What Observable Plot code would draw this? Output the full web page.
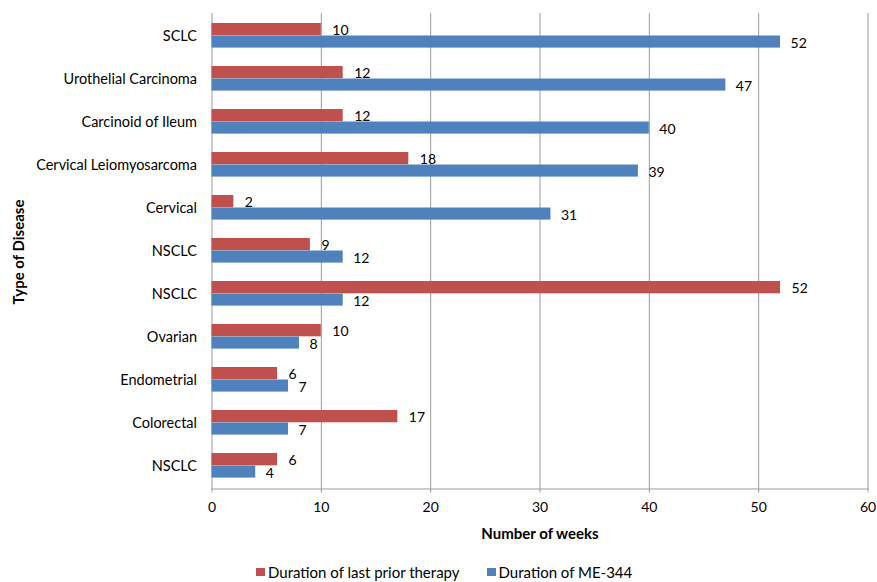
<!DOCTYPE html>
<html>
<head>
<meta charset="utf-8">
<script src="https://cdn.jsdelivr.net/npm/d3@7"></script>
<script src="https://cdn.jsdelivr.net/npm/@observablehq/plot@0.6"></script>
<style>
  html, body { margin: 0; padding: 0; background: #fff; }
  body { width: 877px; height: 582px; overflow: hidden; position: relative; font-family: Lato, "Open Sans", sans-serif; }
  #chart { position: absolute; left: 0; top: 0; }
  .ylab { position: absolute; left: 18px; top: 252px; transform: translate(-50%, -50%) rotate(-90deg); font-weight: bold; font-size: 15px; color: #000; white-space: nowrap; }
  .xlab { position: absolute; left: 540px; top: 533px; transform: translate(-50%, -50%); font-weight: bold; font-size: 15px; color: #000; white-space: nowrap; }
  .legend { position: absolute; top: 564px; left: 256px; font-size: 15px; line-height: 16px; color: #000; white-space: nowrap; display: flex; align-items: center; }
  .legend span.sw { display: inline-block; width: 9px; height: 8px; margin-right: 3px; }
  .legend span.item { display: inline-flex; align-items: center; margin-right: 27px; }
</style>
</head>
<body>
<div id="chart"></div>
<div class="ylab">Type of Disease</div>
<div class="xlab">Number of weeks</div>
<div class="legend" id="legend"></div>
<script>
// Disease types, top to bottom (NSCLC appears for three separate patients)
const diseases = ["SCLC", "Urothelial Carcinoma", "Carcinoid of Ileum", "Cervical Leiomyosarcoma",
  "Cervical", "NSCLC", "NSCLC", "Ovarian", "Endometrial", "Colorectal", "NSCLC"];
// Duration of last prior therapy (weeks)
const priorWeeks = [10, 12, 12, 18, 2, 9, 52, 10, 6, 17, 6];
// Duration of ME-344 (weeks)
const me344Weeks = [52, 47, 40, 39, 31, 12, 12, 8, 7, 7, 4];
const xTicks = [0, 10, 20, 30, 40, 50, 60];
const seriesNames = ["Duration of last prior therapy", "Duration of ME-344"];
const seriesColors = ["#C0504D", "#4F81BD"];

const rowIds = diseases.map((_, i) => String(i));
const prior = diseases.map((d, i) => ({row: String(i), disease: d, weeks: priorWeeks[i]}));
const me344 = diseases.map((d, i) => ({row: String(i), disease: d, weeks: me344Weeks[i]}));

const font = "Lato, 'Open Sans', sans-serif";
const grey = "#9a9a9a";

const chart = Plot.plot({
  width: 877,
  height: 548,
  marginLeft: 211.5,
  marginRight: 9.5,
  marginTop: 13,
  marginBottom: 59.5,
  style: {fontFamily: font, fontSize: "14px", color: "#000", background: "#fff"},
  x: {domain: [0, 60], ticks: xTicks, label: null},
  y: {domain: rowIds, padding: 0, label: null},
  marks: [
    Plot.gridX(xTicks, {stroke: grey, strokeOpacity: 1}),
    // each row holds the two bars of one patient, prior therapy above ME-344
    Plot.barX(prior, {x: "weeks", y: "row", fill: seriesColors[0], insetTop: 9, insetBottom: 21.7}),
    Plot.barX(me344, {x: "weeks", y: "row", fill: seriesColors[1], insetTop: 21.5, insetBottom: 9.4}),
    Plot.text(prior, {x: "weeks", y: "row", text: (d) => String(d.weeks), dx: 11, dy: -5.5, textAnchor: "start", fill: "#000", fontSize: 14}),
    Plot.text(me344, {x: "weeks", y: "row", text: (d) => String(d.weeks), dx: 10, dy: 7.5, textAnchor: "start", fill: "#000", fontSize: 14}),
    Plot.frame({anchor: "bottom", stroke: grey}),
    Plot.axisX({ticks: xTicks, tickSize: 4, tickPadding: 9, stroke: grey, fill: "#000", fontSize: 14, label: null}),
    Plot.axisY({tickSize: 0, tickPadding: 15, tickFormat: (d) => diseases[+d], fontSize: 14.5, label: null, fill: "#000"})
  ]
});
document.getElementById("chart").appendChild(chart);

// Legend entries
const legend = document.getElementById("legend");
seriesNames.forEach((name, i) => {
  const item = document.createElement("span");
  item.className = "item";
  const sw = document.createElement("span");
  sw.className = "sw";
  sw.style.background = seriesColors[i];
  item.appendChild(sw);
  item.appendChild(document.createTextNode(name));
  legend.appendChild(item);
});
</script>
</body>
</html>
